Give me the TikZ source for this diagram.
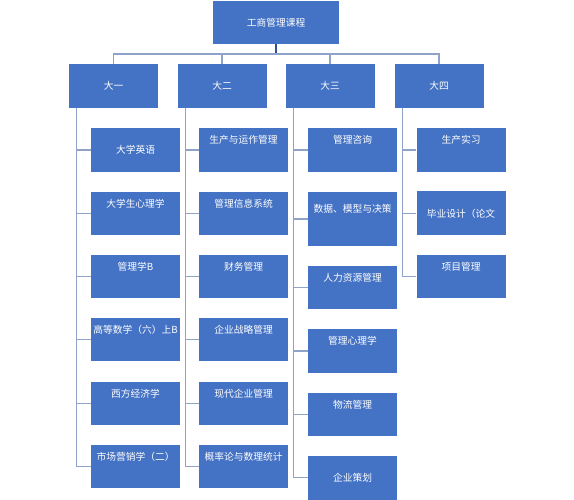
\documentclass[tikz,border=0pt]{standalone}
\usepackage{fontspec}
\newfontfamily\cjk{Noto Sans CJK SC}
\definecolor{boxblue}{HTML}{4472C4}
\definecolor{linkgray}{HTML}{8FA2C8}
\definecolor{stemblue}{HTML}{2F528F}
\tikzset{
  unit/.style={rectangle, fill=boxblue, text=white, inner sep=0pt,
    minimum width=89pt, font=\cjk\fontsize{9.75pt}{11pt}\selectfont},
  midbox/.style={unit, minimum height=44pt},
  topbox/.style={unit, text height=15.7pt, text depth=28pt},
  link/.style={draw=linkgray, line width=1.3pt},
  stem/.style={draw=stemblue, line width=1.3pt}
}
\begin{document}
\begin{tikzpicture}[x=1pt, y=-1pt]
  \useasboundingbox (0,0) rectangle (574,500);

  % Root and years
  \node[midbox, minimum width=126pt, minimum height=43pt] (root) at (276,22.5) {工商管理课程};
  \node[midbox] (y1) at (113.5,86) {大一};
  \node[midbox] (y2) at (222,86) {大二};
  \node[midbox] (y3) at (330,86) {大三};
  \node[midbox] (y4) at (439,86) {大四};

  % Courses, first year
  \node[midbox] (c11) at (135.5,150) {大学英语};
  \node[topbox] (c12) at (135.5,213.5) {大学生心理学};
  \node[topbox] (c13) at (135.5,276.5) {管理学B};
  \node[topbox] (c14) at (135.5,339.5) {高等数学（六）上B};
  \node[topbox] (c15) at (135.5,403.5) {西方经济学};
  \node[topbox] (c16) at (135.5,466.5) {市场营销学（二）};

  % Courses, second year
  \node[topbox] (c21) at (243.5,150) {生产与运作管理};
  \node[topbox] (c22) at (243.5,213.5) {管理信息系统};
  \node[topbox] (c23) at (243.5,276.5) {财务管理};
  \node[topbox] (c24) at (243.5,339.5) {企业战略管理};
  \node[topbox] (c25) at (243.5,403.5) {现代企业管理};
  \node[topbox] (c26) at (243.5,466.5) {概率论与数理统计};

  % Courses, third year
  \node[topbox] (c31) at (352.5,150) {管理咨询};
  \node[unit, text height=20.7pt, text depth=33.3pt] (c32) at (352.5,219) {数据、模型与决策};
  \node[topbox] (c33) at (352.5,287.5) {人力资源管理};
  \node[topbox] (c34) at (352.5,351) {管理心理学};
  \node[topbox] (c35) at (352.5,414.5) {物流管理};
  \node[midbox] (c36) at (352.5,477.5) {企业策划};

  % Courses, fourth year
  \node[topbox] (c41) at (461,150) {生产实习};
  \node[midbox] (c42) at (461,213.5) {毕业设计（论文};
  \node[topbox] (c43) at (461,276.5) {项目管理};

  % Bus under the root
  \coordinate (bus) at (0,54);
  \draw[stem] (root.south) -- (root.south |- bus);
  \draw[link] (y1.north) -- (y1.north |- bus) -- (y4.north |- bus) -- (y4.north);
  \draw[link] (y2.north) -- (y2.north |- bus);
  \draw[link] (y3.north) -- (y3.north |- bus);

  % Spines of the columns
  \foreach \c/\last in {1/6, 2/6, 3/6, 4/3} {
    \coordinate (s\c) at ([xshift=8pt]y\c.south west);
    \draw[link] (s\c) |- (c\c\last.west);
  }
  \foreach \c/\k in {1/1,1/2,1/3,1/4,1/5,2/1,2/2,2/3,2/4,2/5,3/1,3/2,3/3,3/4,3/5,4/1,4/2}
    \draw[link] (c\c\k.west) -- (c\c\k.west -| s\c);
\end{tikzpicture}
\end{document}
